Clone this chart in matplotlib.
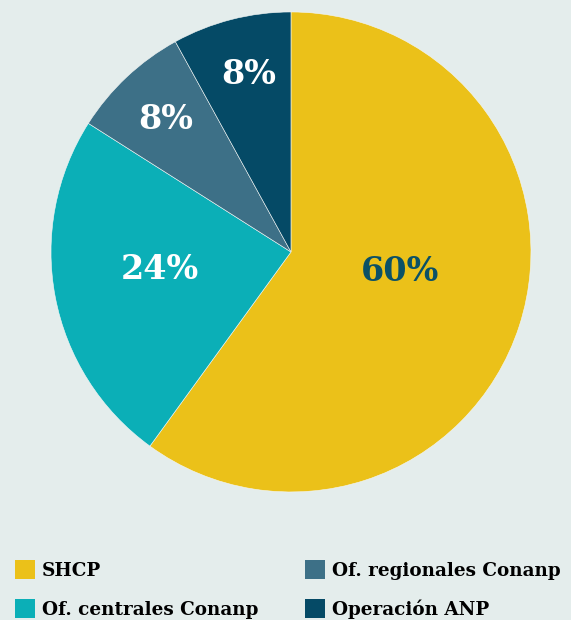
import numpy as np
import matplotlib.pyplot as plt
from matplotlib.patches import Patch

labels = ["SHCP", "Of. centrales Conanp", "Of. regionales Conanp", "Operación ANP"]
shares = [60, 24, 8, 8]
colors = ["#EBC119", "#0BAFB7", "#3D7087", "#054A66"]
text_colors = ["#0B5166", "white", "white", "white"]

bg = "#E4EDEC"
plt.rcParams['font.family'] = ['DejaVu Serif']

fig = plt.figure(figsize=(5.71, 6.2), dpi=100, facecolor=bg)
ax = fig.add_axes([0.0893, 0.2065, 0.8406, 0.7742])
ax.set_facecolor(bg)

wedges, _ = ax.pie(shares, colors=colors, startangle=90, counterclock=False,
                   radius=1.0, wedgeprops=dict(edgecolor="#f4f7f6", linewidth=0.4))

# label placement (distance from centre, angle shift in degrees)
dist = [0.46, 0.55, 0.76, 0.76]
shift = [8, -3, 0, -1]
for w, s, d, sh, tc in zip(wedges, shares, dist, shift, text_colors):
    ang = np.deg2rad((w.theta1 + w.theta2) / 2 + sh)
    ax.text(d * np.cos(ang), d * np.sin(ang), f"{s}%", ha="center", va="center",
            fontsize=24, fontweight="bold", color=tc)

ax.set_xlim(-1, 1)
ax.set_ylim(-1, 1)
ax.set_aspect("equal")
ax.axis("off")

handles = [Patch(facecolor=c, edgecolor="none") for c in colors]
fig.legend(handles, labels, ncol=2, loc="upper left", bbox_to_anchor=(0.014, 0.108),
           frameon=False, prop=dict(weight="bold", size=13.2),
           handlelength=1.1, handleheight=1.2, handletextpad=0.35,
           labelspacing=1.05, columnspacing=2.55, borderaxespad=0)

fig.savefig("out.png", dpi=100, facecolor=bg)
